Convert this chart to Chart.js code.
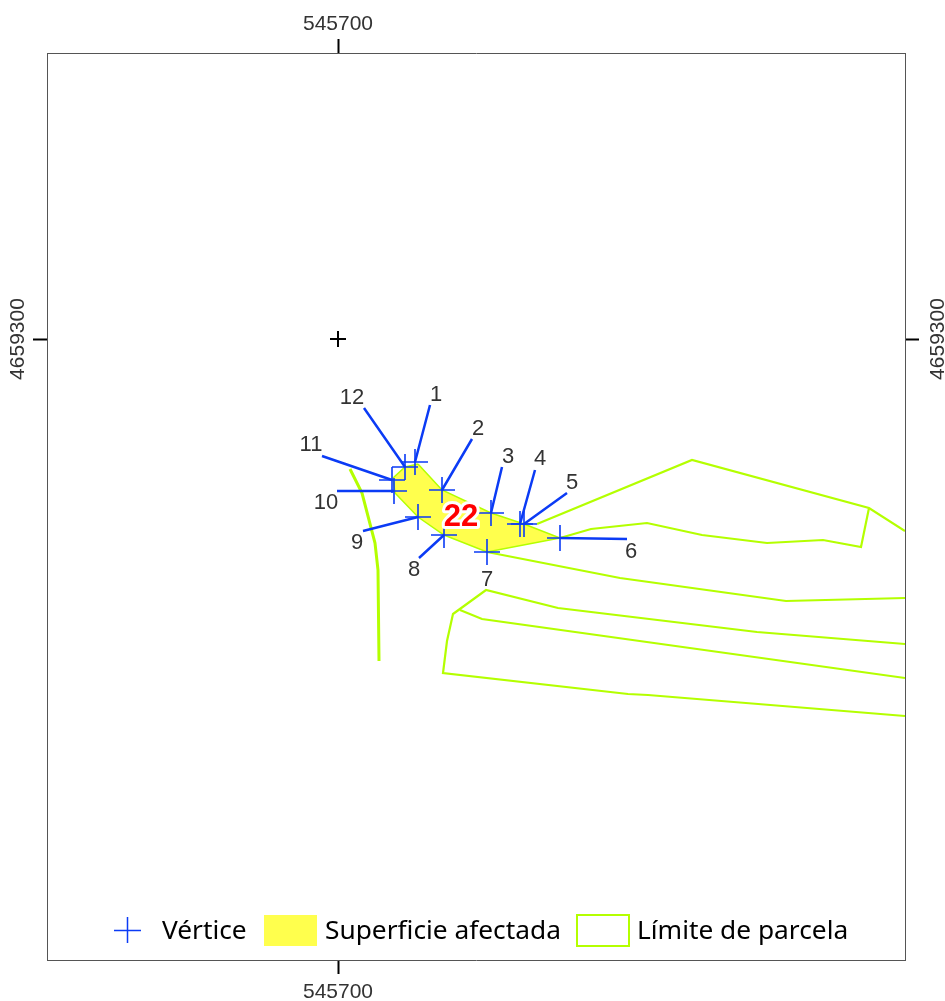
<!DOCTYPE html>
<html>
<head>
<meta charset="utf-8">
<script src="https://cdn.jsdelivr.net/npm/chart.js@4/dist/chart.umd.js"></script>
<style>
  html, body { margin: 0; padding: 0; background: #fff; }
  canvas { display: block; }
</style>
</head>
<body>
<canvas id="myChart" width="945" height="1001"></canvas>
<script>
// map extent and grid ticks (UTM metres)
const xRange = [545663.625, 545770.875];
const yRange = [4659222.375, 4659335.75];
const xTicks = [545700];
const yTicks = [4659300];

// vertices 1..12
const vertexNames = ["1", "2", "3", "4", "5", "6", "7", "8", "9", "10", "11", "12"];
const vertexX = [545709.625, 545713, 545719.125, 545722.75, 545723.25, 545727.75, 545718.625, 545713.25, 545710, 545707, 545706.75, 545708.375];
const vertexY = [4659284.625, 4659281.125, 4659278.25, 4659276.875, 4659276.875, 4659275.125, 4659273.375, 4659275.5, 4659277.75, 4659281, 4659282.375, 4659284];

// outer end of each leader line (vertex 7 has none)
const leaderX = [545711.5, 545716.75, 545720.5, 545724.625, 545728.625, 545736.125, null, 545710.125, 545703.125, 545699.875, 545698, 545703.25];
const leaderY = [4659291.75, 4659287.5, 4659284, 4659283.625, 4659280.75, 4659275, null, 4659272.625, 4659276, 4659281, 4659285.375, 4659291.375];

// where the vertex numbers sit
const nameX = [545712.25, 545717.5, 545721.25, 545725.25, 545729.25, 545736.625, 545718.625, 545709.5, 545702.375, 545698.5, 545696.625, 545701.75];
const nameY = [4659293, 4659288.75, 4659285.25, 4659285, 4659282, 4659273.375, 4659269.875, 4659271.125, 4659274.5, 4659279.5, 4659286.75, 4659292.625];

// affected surface
const areaName = "22";
const areaNameX = 545715.375;
const areaNameY = 4659277.75;
const areaX = [545710, 545713, 545719.125, 545723.25, 545727.75, 545718.625, 545713.25, 545710, 545707.125, 545706.875, 545708.375, 545710];
const areaY = [4659284.375, 4659281.125, 4659278.25, 4659276.875, 4659275.125, 4659273.375, 4659275.5, 4659277.75, 4659280.75, 4659282.625, 4659284, 4659284.375];

// parcel boundaries
const parcelAX = [545724.875, 545744.25, 545766.375, 545770.875];
const parcelAY = [4659276.875, 4659284.875, 4659278.875, 4659276];
const parcelBX = [545766.375, 545765.375, 545760.625, 545753.625, 545745.5, 545738.625, 545731.625, 545727.75];
const parcelBY = [4659278.875, 4659274, 4659274.875, 4659274.5, 4659275.5, 4659277, 4659276.25, 4659275.125];
const parcelCX = [545718.625, 545735.25, 545756, 545770.875];
const parcelCY = [4659273.375, 4659270.125, 4659267.25, 4659267.625];
const parcelDX = [545770.875, 545752.375, 545727.5, 545718.5, 545714.375, 545713.625, 545713.125, 545736.25, 545738.75, 545770.875];
const parcelDY = [4659261.875, 4659263.375, 4659266.375, 4659268.625, 4659265.625, 4659262.25, 4659258.25, 4659255.625, 4659255.5, 4659252.875];
const parcelEX = [545715.25, 545718, 545770.875];
const parcelEY = [4659266.125, 4659265, 4659257.625];
const roadX = [545701.5, 545703, 545704.625, 545705, 545705.125];
const roadY = [4659283.75, 4659280.75, 4659274.5, 4659271.125, 4659259.75];

const legendNames = ["Vértice", "Superficie afectada", "Límite de parcela"];

const BLUE = "#0b3bf5";
const LIME = "#b4ff00";
const YELLOW = "#ffff4d";

function toPoints(xs, ys) {
  return xs.map((x, i) => ({ x, y: ys[i] }));
}

// leader lines go into one dataset, broken up with null points
const leaderPoints = [];
vertexX.forEach((x, i) => {
  if (leaderX[i] === null) return;
  leaderPoints.push({ x: leaderX[i], y: leaderY[i] }, { x, y: vertexY[i] }, { x, y: null });
});

function parcelLine(xs, ys, width) {
  return {
    data: toPoints(xs, ys),
    showLine: true,
    borderColor: LIME,
    borderWidth: width,
    pointRadius: 0,
    fill: false
  };
}

function frameAxis(position, size, range, ticks, axis, labelPadding) {
  const rotated = axis === "y";
  return {
    type: "linear",
    axis,
    position,
    min: range[0],
    max: range[1],
    border: { display: true, color: "#555", width: 1 },
    grid: { drawOnChartArea: false, drawTicks: true, tickLength: 14, tickColor: "#000", tickWidth: 2 },
    ticks: {
      color: "#333",
      font: { family: "'Liberation Sans'", size: 21 },
      padding: labelPadding,
      minRotation: rotated ? 90 : 0,
      maxRotation: rotated ? 90 : 0,
      crossAlign: rotated ? "center" : "near",
      callback: (value) => String(value)
    },
    afterBuildTicks: (scale) => {
      scale.ticks = ticks.map((value) => ({ value }));
    },
    afterFit: (scale) => {
      if (rotated) scale.width = size;
      else scale.height = size;
    }
  };
}

// numbers next to the vertices and the red parcel number
const mapLabels = {
  id: "mapLabels",
  afterDatasetsDraw(chart) {
    const { ctx, scales } = chart;
    ctx.save();
    ctx.textAlign = "center";
    ctx.textBaseline = "middle";
    ctx.fillStyle = "#333";
    ctx.font = "22px 'Liberation Sans'";
    vertexNames.forEach((name, i) => {
      ctx.fillText(name, scales.x.getPixelForValue(nameX[i]), scales.y.getPixelForValue(nameY[i]));
    });
    const px = scales.x.getPixelForValue(areaNameX);
    const py = scales.y.getPixelForValue(areaNameY);
    ctx.font = "bold 31px 'Liberation Sans'";
    ctx.lineJoin = "round";
    ctx.lineWidth = 6;
    ctx.strokeStyle = "#fff";
    ctx.strokeText(areaName, px, py);
    ctx.fillStyle = "#f00";
    ctx.fillText(areaName, px, py);
    ctx.restore();
  }
};

// legend sits inside the frame, at the bottom
const mapLegend = {
  id: "mapLegend",
  afterDraw(chart) {
    const { ctx } = chart;
    ctx.save();
    ctx.strokeStyle = BLUE;
    ctx.lineWidth = 1.5;
    ctx.beginPath();
    ctx.moveTo(114, 930.5);
    ctx.lineTo(141, 930.5);
    ctx.moveTo(127.5, 917);
    ctx.lineTo(127.5, 943);
    ctx.stroke();
    ctx.fillStyle = YELLOW;
    ctx.fillRect(264, 915, 53, 31);
    ctx.strokeStyle = LIME;
    ctx.lineWidth = 2;
    ctx.strokeRect(577, 915, 52, 31);
    ctx.fillStyle = "#000";
    ctx.font = "26.3px 'Noto Sans'";
    ctx.textBaseline = "middle";
    ctx.fillText(legendNames[0], 162, 932);
    ctx.fillText(legendNames[1], 325, 932);
    ctx.fillText(legendNames[2], 637, 932);
    ctx.restore();
  }
};

const ctx = document.getElementById("myChart").getContext("2d");

new Chart(ctx, {
  type: "scatter",
  data: {
    datasets: [
      {
        // vertex crosses
        data: toPoints(vertexX, vertexY),
        pointStyle: "cross",
        pointRadius: 13,
        pointBorderWidth: 1.6,
        pointBorderColor: BLUE
      },
      {
        // grid intersection
        data: [{ x: xTicks[0], y: yTicks[0] }],
        pointStyle: "cross",
        pointRadius: 8,
        pointBorderWidth: 2,
        pointBorderColor: "#000"
      },
      {
        data: leaderPoints,
        showLine: true,
        spanGaps: false,
        borderColor: BLUE,
        borderWidth: 2.5,
        pointRadius: 0
      },
      parcelLine(parcelAX, parcelAY, 2.2),
      parcelLine(parcelBX, parcelBY, 2.2),
      parcelLine(parcelCX, parcelCY, 2.2),
      parcelLine(parcelDX, parcelDY, 2.2),
      parcelLine(parcelEX, parcelEY, 2.2),
      parcelLine(roadX, roadY, 3),
      {
        data: toPoints(areaX, areaY),
        showLine: true,
        borderColor: LIME,
        borderWidth: 1.5,
        backgroundColor: YELLOW,
        pointRadius: 0,
        fill: "shape"
      }
    ]
  },
  options: {
    responsive: false,
    animation: false,
    events: [],
    layout: { padding: 0 },
    scales: {
      x: frameAxis("bottom", 41, xRange, xTicks, "x", 6),
      x2: frameAxis("top", 53, xRange, xTicks, "x", 2),
      y: frameAxis("left", 47, yRange, yTicks, "y", -26),
      y2: frameAxis("right", 40, yRange, yTicks, "y", -22)
    },
    plugins: {
      legend: { display: false },
      tooltip: { enabled: false }
    }
  },
  plugins: [mapLabels, mapLegend]
});
</script>
</body>
</html>
